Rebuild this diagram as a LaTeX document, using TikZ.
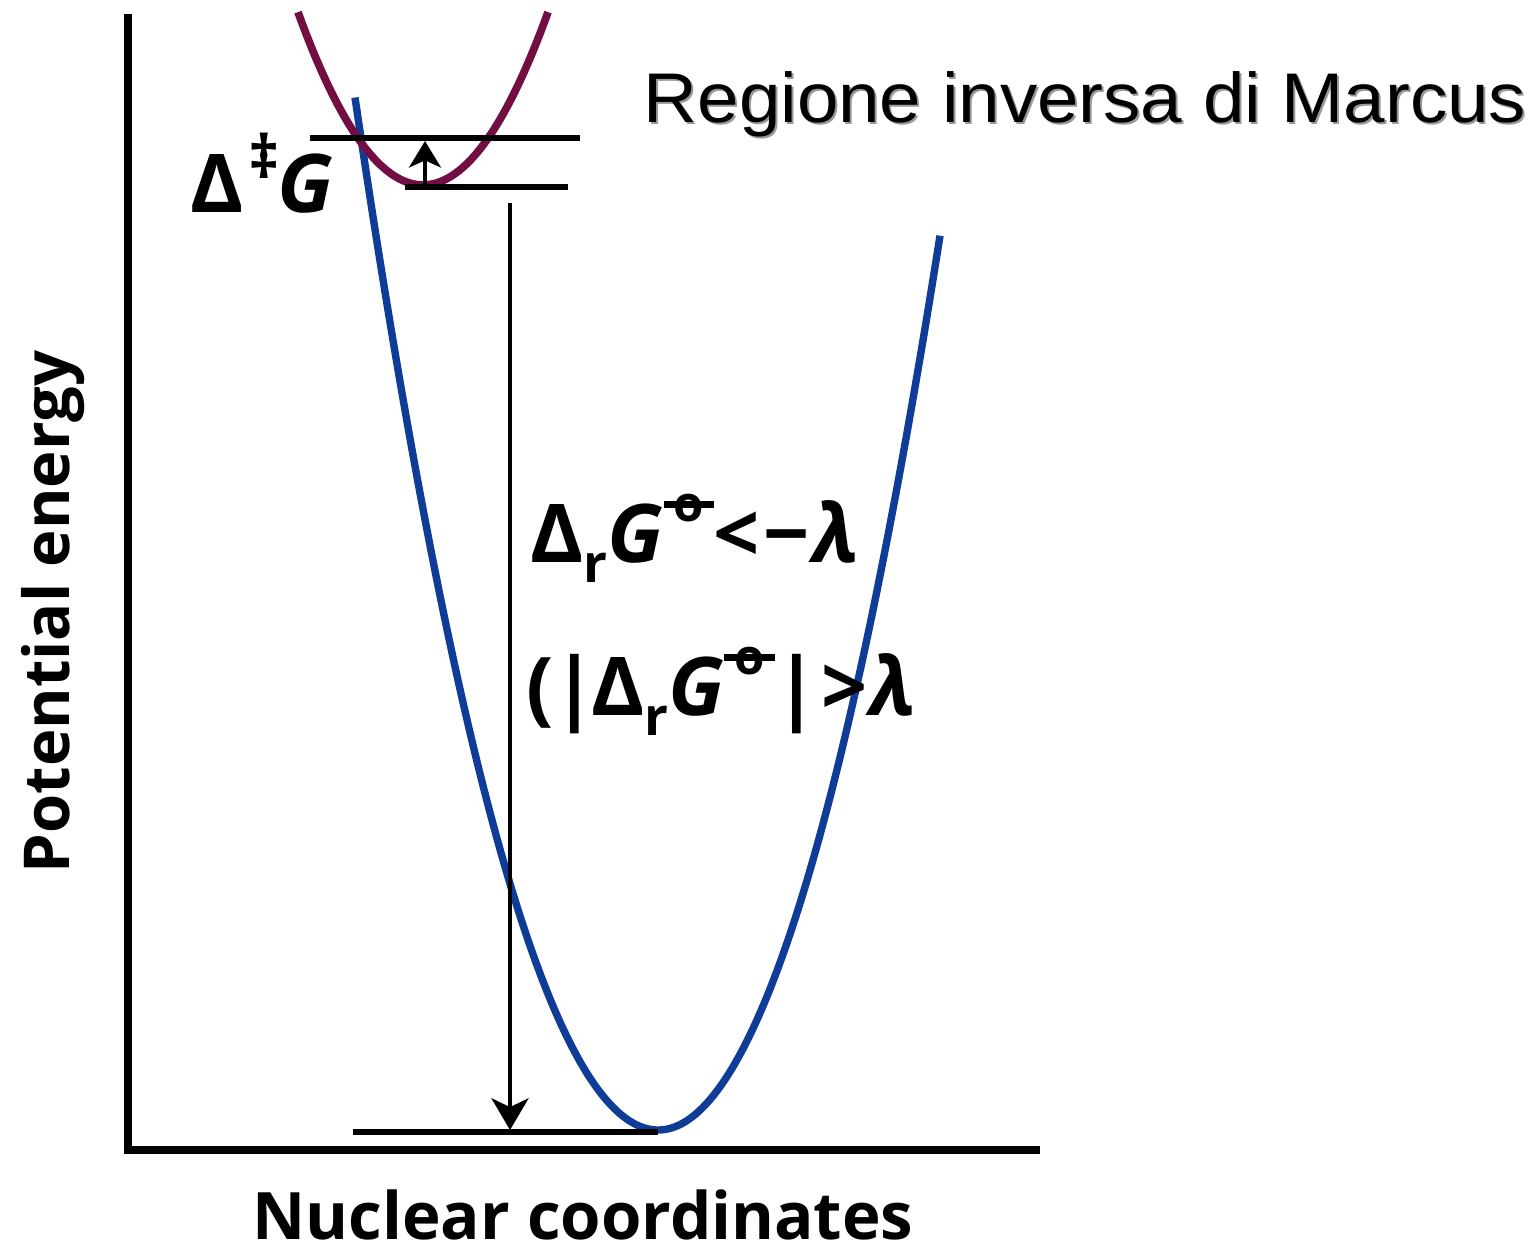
\documentclass[tikz,border=0pt]{standalone}
\usepackage{fontspec}
\setmainfont{Liberation Sans}
\newfontfamily\lab{Open Sans}
\usetikzlibrary{arrows.meta}
\definecolor{pblue}{RGB}{14,60,150}
\definecolor{pmar}{RGB}{115,14,66}
\newcommand{\plims}{\raisebox{0.5em}{\makebox[0.62em]{\rlap{\rule[0.17em]{0.62em}{0.08em}}\hfill{\fontsize{14}{14}\selectfont o}\hfill}}}
\newcommand{\subr}{\raisebox{-0.25em}{\fontsize{15}{15}\selectfont r}}
\begin{document}
\begin{tikzpicture}[x=0.01cm,y=-0.01cm,
  axis/.style={line width=2.2pt},
  level/.style={line width=1.6pt},
  curveb/.style={pblue,line width=2.1pt},
  curvem/.style={pmar,line width=2.2pt},
  arr/.style={line width=1.35pt,-{Stealth[length=9pt,width=10.5pt,inset=2.5pt]}},
  sarr/.style={line width=1.35pt,-{Stealth[length=7.5pt,width=9pt,inset=2pt]}},
  labtxt/.style={font=\lab\bfseries\fontsize{23}{26}\selectfont,inner sep=0pt},
  ylabs/.style={font=\lab\bfseries\fontsize{18}{22}\selectfont,inner sep=0pt},
  xlabs/.style={font=\lab\bfseries\fontsize{18.6}{22}\selectfont,inner sep=0pt},
  ttl/.style={font=\fontsize{20}{24}\selectfont,inner sep=0pt,anchor=base west,xscale=1.06}]
\useasboundingbox[fill=white] (0,0) rectangle (1536,1251);
% axes
\coordinate (ytop) at (128,14);
\coordinate (orig) at (128,1150);
\coordinate (xend) at (1040,1150);
\draw[axis] (ytop) -- (orig) -- (xend);
% curves
\draw[curveb] plot[domain=-303:282,samples=120,smooth] ({658+(\x)},{1130-0.01124*(\x)*(\x)});
\draw[curvem] plot[domain=-125:125,samples=80,smooth] ({423+(\x)},{185-0.01107*(\x)*(\x)});
% levels
\coordinate (l1a) at (310,138); \coordinate (l1b) at (580,138);
\coordinate (l2a) at (405,187); \coordinate (l2b) at (568,187);
\coordinate (l3a) at (353,1132); \coordinate (l3b) at (658,1132);
\draw[level] (l1a) -- (l1b);
\draw[level] (l2a) -- (l2b);
\draw[level] (l3a) -- (l3b);
% arrows
\coordinate (sa) at (425,185); \coordinate (sb) at (425,141);
\draw[sarr] (sa) -- (sb);
\coordinate (la) at (510,203); \coordinate (lb) at (510,1130);
\draw[arr] (la) -- (lb);
% labels
\node[labtxt,anchor=base west] (dg) at (190,212) {Δ\hspace{0.06em}\raisebox{0.42em}{\fontsize{17}{17}\selectfont ‡}\hspace{-0.03em}\textit{G}};
\node[labtxt,anchor=base west] (e1) at (530,562) {Δ\subr\textit{G}\plims<\hspace{0.04em}−\hspace{0.04em}\textit{λ}};
\node[labtxt,anchor=base west] (e2) at (526,715) {(\hspace{-0.02em}|\hspace{-0.07em}Δ\subr\textit{G}\plims|\hspace{0.03em}>\hspace{0.02em}\textit{λ}};
\node[ylabs,rotate=90,anchor=base] (ylab) at (69,612) {Potential energy};
\node[xlabs,anchor=base] (xlab) at (583,1239) {Nuclear coordinates};
\node[ttl,text=black!40] (tsh) at (645,124) {Regione inversa di Marcus};
\node[ttl] (title) at (643,122) {Regione inversa di Marcus};
\end{tikzpicture}
\end{document}
